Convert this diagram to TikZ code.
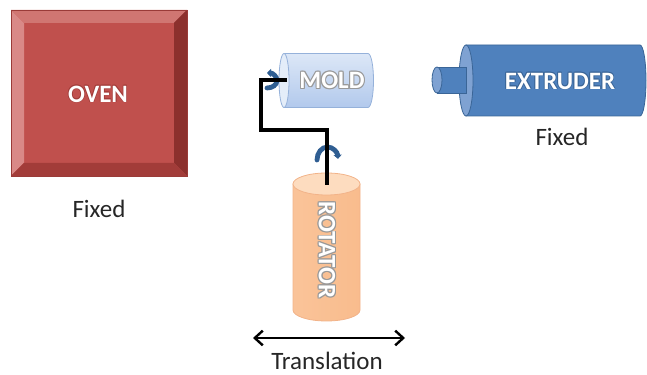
\documentclass[tikz,border=0pt]{standalone}
\usepackage{fontspec}
\setmainfont{Carlito}
\usetikzlibrary{arrows.meta}

\definecolor{ovenface}{HTML}{C0504D}
\definecolor{ovenleft}{HTML}{D98987}
\definecolor{oventop}{HTML}{D07672}
\definecolor{ovenright}{HTML}{8C302D}
\definecolor{ovenbottom}{HTML}{A23C39}
\definecolor{ovenedge}{HTML}{9A3B38}
\definecolor{moldlight}{HTML}{DCE7F7}
\definecolor{molddark}{HTML}{B2C9EC}
\definecolor{moldface}{HTML}{E4EDF9}
\definecolor{moldedge}{HTML}{95B1DA}
\definecolor{extbody}{HTML}{4F81BD}
\definecolor{extface}{HTML}{7FA2D2}
\definecolor{extedge}{HTML}{3A6597}
\definecolor{rotlight}{HTML}{FDE2CA}
\definecolor{rotdark}{HTML}{F9BC8D}
\definecolor{rotface}{HTML}{FDDCBF}
\definecolor{rotedge}{HTML}{F2B389}
\definecolor{arcblue}{HTML}{2F5E92}
\definecolor{textgray}{HTML}{262626}

% white lettering with a coloured halo
\newcommand\halo[3][0.7pt]{%
  \leavevmode
  \rlap{\textcolor{#2}{\kern#1 #3}}%
  \rlap{\textcolor{#2}{\kern-#1 #3}}%
  \rlap{\textcolor{#2}{\raisebox{#1}{#3}}}%
  \rlap{\textcolor{#2}{\raisebox{-#1}{#3}}}%
  \rlap{\textcolor{#2}{\kern#1\raisebox{#1}{#3}}}%
  \rlap{\textcolor{#2}{\kern-#1\raisebox{#1}{#3}}}%
  \rlap{\textcolor{#2}{\kern#1\raisebox{-#1}{#3}}}%
  \rlap{\textcolor{#2}{\kern-#1\raisebox{-#1}{#3}}}%
  \textcolor{white}{#3}}

\begin{document}
\begin{tikzpicture}[x=0.75pt,y=0.75pt,
  bigtext/.style={font=\fontsize{18.75}{22}\selectfont\bfseries, inner sep=0pt},
  captext/.style={font=\fontsize{18.75}{22}\selectfont, text=textgray, inner sep=0pt},
  conn/.style={line width=3.4pt, black, line join=miter},
  rotarc/.style={line width=3.6pt, arcblue, line cap=round},
  slidearrow/.style={line width=1.8pt, black, {Straight Barb[length=6pt,width=11pt]}-{Straight Barb[length=6pt,width=11pt]}}]
\useasboundingbox (0,0) rectangle (647,375);

% ---- oven: bevelled box ----
\fill[ovenface] (11,199) rectangle (187,365);
\fill[ovenleft] (11,199) -- (24,212) -- (24,352) -- (11,365) -- cycle;
\fill[oventop] (11,365) -- (24,352) -- (174,352) -- (187,365) -- cycle;
\fill[ovenright] (187,365) -- (174,352) -- (174,212) -- (187,199) -- cycle;
\fill[ovenbottom] (187,199) -- (174,212) -- (24,212) -- (11,199) -- cycle;
\draw[ovenedge, line width=0.4pt] (11,199) rectangle (187,365);
\node[bigtext] (oven) at (98,281) {\halo[0.5pt]{ovenbottom}{OVEN}};
\node[captext] (ovenfix) at (99,166) {Fixed};

% ---- mold: horizontal cylinder ----
\path[top color=moldlight, bottom color=molddark, draw=moldedge, line width=0.6pt]
  (284,321.5) -- (368,321.5) arc (90:-90:5.5 and 27) -- (284,267.5) -- cycle;
\path[fill=moldface, draw=moldedge, line width=0.6pt] (284,294.5) ellipse (5 and 27);
\coordinate (moldface) at (287,295);
\node[bigtext] (mold) at (332,295) {\halo{gray!80}{MOLD}};

% ---- extruder: barrel with nozzle ----
\path[fill=extbody, draw=extedge, line width=0.6pt]
  (466,330) -- (640,330) arc (90:-90:6 and 35.5) -- (466,259) -- cycle;
\path[fill=extface, draw=extedge, line width=0.6pt] (466,294.5) ellipse (7 and 35.5);
\path[fill=extbody, draw=extedge, line width=0.6pt]
  (437,308) -- (466,308) -- (466,282) -- (437,282) -- cycle;
\path[fill=extface, draw=extedge, line width=0.6pt] (437,295) ellipse (5 and 13);
\node[bigtext] (extruder) at (560,294) {\halo[0.5pt]{extedge}{EXTRUDER}};
\node[captext] (extfix) at (562,238) {Fixed};

% ---- rotator: upright cylinder ----
\path[left color=rotdark!80!rotlight, middle color=rotlight, right color=rotdark, draw=rotedge, line width=0.6pt]
  (293,191) -- (293,65) arc (180:360:33.5 and 11) -- (360,191) -- cycle;
\path[fill=rotface, draw=rotedge, line width=0.6pt] (326.5,191) ellipse (33.5 and 11);
\coordinate (rottop) at (327,190);
\node[bigtext, rotate=-90] (rotator) at (327,125) {\halo{gray!80}{ROTATOR}};

% ---- rotation marks ----
\draw[rotarc, -{Triangle[length=3pt,width=6pt]}] (317,215) arc (180:5:10.5 and 13);
\draw[rotarc, {Triangle[length=3pt,width=6pt]}-] (267,302) arc (90:-90:10 and 7.5);

% ---- drive arm from rotator to mold ----
\coordinate (bend) at (261,245);
\draw[conn] (moldface) -| (bend) -| (rottop);

% ---- translation ----
\coordinate (tl) at (253,37);
\coordinate (tr) at (405,37);
\draw[slidearrow] (tl) -- (tr);
\node[captext] (trans) at (327,14) {Translation};
\end{tikzpicture}
\end{document}
